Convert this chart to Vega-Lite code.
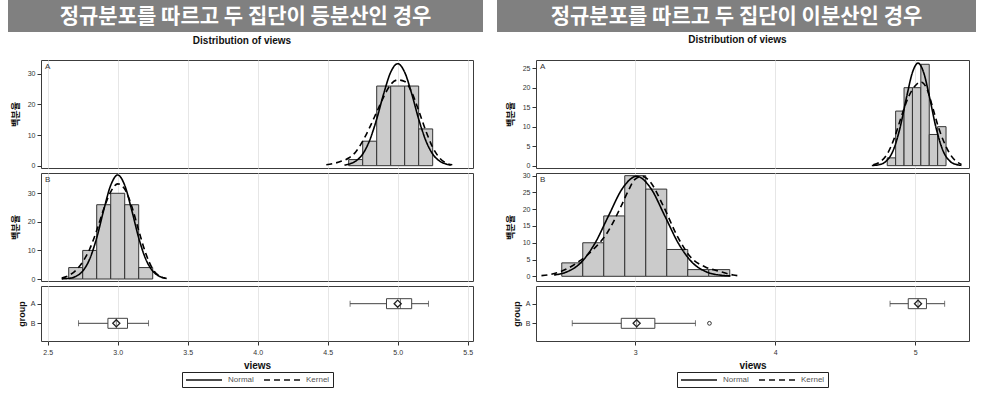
{
  "$schema": "https://vega.github.io/schema/vega-lite/v6.json",
  "background": "white",
  "padding": {"left": 8, "top": 0, "right": 2, "bottom": 2},
  "config": {
    "font": "Liberation Sans",
    "view": {"stroke": "#3c3c3c", "strokeWidth": 1},
    "axis": {"labelFont": "Liberation Sans", "labelFontSize": 7, "labelColor": "#333", "labelOverlap": false, "titleFont": "Liberation Sans", "titleFontSize": 10, "titleFontWeight": "bold", "titleColor": "#111", "tickColor": "#333", "domain": false, "grid": false, "gridColor": "#e6e6e6", "tickSize": 4, "labelPadding": 2},
    "axisY": {"minExtent": 16, "maxExtent": 16, "titlePadding": 5, "titleFontSize": 9},
    "legend": {"layout": {"bottom": {"anchor": "middle"}}}
  },
  "datasets": {
    "histL": [
      {"group": "A", "lo": 4.65, "hi": 4.75, "pct": 2},
      {"group": "A", "lo": 4.75, "hi": 4.85, "pct": 8},
      {"group": "A", "lo": 4.85, "hi": 4.95, "pct": 26},
      {"group": "A", "lo": 4.95, "hi": 5.05, "pct": 26},
      {"group": "A", "lo": 5.05, "hi": 5.15, "pct": 26},
      {"group": "A", "lo": 5.15, "hi": 5.25, "pct": 12},
      {"group": "B", "lo": 2.65, "hi": 2.75, "pct": 4},
      {"group": "B", "lo": 2.75, "hi": 2.85, "pct": 10},
      {"group": "B", "lo": 2.85, "hi": 2.95, "pct": 26},
      {"group": "B", "lo": 2.95, "hi": 3.05, "pct": 30},
      {"group": "B", "lo": 3.05, "hi": 3.15, "pct": 26},
      {"group": "B", "lo": 3.15, "hi": 3.25, "pct": 4}
    ],
    "histR": [
      {"group": "A", "lo": 4.80, "hi": 4.86, "pct": 2},
      {"group": "A", "lo": 4.86, "hi": 4.92, "pct": 14},
      {"group": "A", "lo": 4.92, "hi": 4.98, "pct": 20},
      {"group": "A", "lo": 4.98, "hi": 5.04, "pct": 20},
      {"group": "A", "lo": 5.04, "hi": 5.10, "pct": 26},
      {"group": "A", "lo": 5.10, "hi": 5.16, "pct": 8},
      {"group": "A", "lo": 5.16, "hi": 5.22, "pct": 10},
      {"group": "B", "lo": 2.475, "hi": 2.625, "pct": 4},
      {"group": "B", "lo": 2.625, "hi": 2.775, "pct": 10},
      {"group": "B", "lo": 2.775, "hi": 2.925, "pct": 18},
      {"group": "B", "lo": 2.925, "hi": 3.075, "pct": 30},
      {"group": "B", "lo": 3.075, "hi": 3.225, "pct": 26},
      {"group": "B", "lo": 3.225, "hi": 3.375, "pct": 8},
      {"group": "B", "lo": 3.375, "hi": 3.525, "pct": 2},
      {"group": "B", "lo": 3.525, "hi": 3.675, "pct": 2}
    ],
    "curveL": [
      {"group": "A", "type": "Normal", "x": 4.62, "y": 0.2},
      {"group": "A", "type": "Normal", "x": 4.65, "y": 0.5},
      {"group": "A", "type": "Normal", "x": 4.70, "y": 1.5},
      {"group": "A", "type": "Normal", "x": 4.75, "y": 3.8},
      {"group": "A", "type": "Normal", "x": 4.80, "y": 8.3},
      {"group": "A", "type": "Normal", "x": 4.85, "y": 15.2},
      {"group": "A", "type": "Normal", "x": 4.90, "y": 23.5},
      {"group": "A", "type": "Normal", "x": 4.95, "y": 30.5},
      {"group": "A", "type": "Normal", "x": 5.00, "y": 33.3},
      {"group": "A", "type": "Normal", "x": 5.05, "y": 30.5},
      {"group": "A", "type": "Normal", "x": 5.10, "y": 23.5},
      {"group": "A", "type": "Normal", "x": 5.15, "y": 15.2},
      {"group": "A", "type": "Normal", "x": 5.20, "y": 8.3},
      {"group": "A", "type": "Normal", "x": 5.25, "y": 3.8},
      {"group": "A", "type": "Normal", "x": 5.30, "y": 1.5},
      {"group": "A", "type": "Normal", "x": 5.35, "y": 0.5},
      {"group": "A", "type": "Normal", "x": 5.38, "y": 0.2},
      {"group": "A", "type": "Kernel", "x": 4.49, "y": 0.3},
      {"group": "A", "type": "Kernel", "x": 4.55, "y": 0.8},
      {"group": "A", "type": "Kernel", "x": 4.60, "y": 1.5},
      {"group": "A", "type": "Kernel", "x": 4.65, "y": 2.5},
      {"group": "A", "type": "Kernel", "x": 4.70, "y": 4.5},
      {"group": "A", "type": "Kernel", "x": 4.75, "y": 8},
      {"group": "A", "type": "Kernel", "x": 4.80, "y": 12.5},
      {"group": "A", "type": "Kernel", "x": 4.85, "y": 17.5},
      {"group": "A", "type": "Kernel", "x": 4.90, "y": 22.5},
      {"group": "A", "type": "Kernel", "x": 4.95, "y": 26.5},
      {"group": "A", "type": "Kernel", "x": 5.00, "y": 28},
      {"group": "A", "type": "Kernel", "x": 5.05, "y": 27.5},
      {"group": "A", "type": "Kernel", "x": 5.10, "y": 24},
      {"group": "A", "type": "Kernel", "x": 5.15, "y": 18},
      {"group": "A", "type": "Kernel", "x": 5.20, "y": 11.5},
      {"group": "A", "type": "Kernel", "x": 5.25, "y": 6},
      {"group": "A", "type": "Kernel", "x": 5.30, "y": 2.5},
      {"group": "A", "type": "Kernel", "x": 5.35, "y": 0.8},
      {"group": "A", "type": "Kernel", "x": 5.39, "y": 0.3},
      {"group": "B", "type": "Normal", "x": 2.60, "y": 0.05},
      {"group": "B", "type": "Normal", "x": 2.65, "y": 0.2},
      {"group": "B", "type": "Normal", "x": 2.70, "y": 0.9},
      {"group": "B", "type": "Normal", "x": 2.75, "y": 2.8},
      {"group": "B", "type": "Normal", "x": 2.80, "y": 7.0},
      {"group": "B", "type": "Normal", "x": 2.85, "y": 14.4},
      {"group": "B", "type": "Normal", "x": 2.90, "y": 24.1},
      {"group": "B", "type": "Normal", "x": 2.95, "y": 32.8},
      {"group": "B", "type": "Normal", "x": 3.00, "y": 36.4},
      {"group": "B", "type": "Normal", "x": 3.05, "y": 32.8},
      {"group": "B", "type": "Normal", "x": 3.10, "y": 24.1},
      {"group": "B", "type": "Normal", "x": 3.15, "y": 14.4},
      {"group": "B", "type": "Normal", "x": 3.20, "y": 7.0},
      {"group": "B", "type": "Normal", "x": 3.25, "y": 2.8},
      {"group": "B", "type": "Normal", "x": 3.30, "y": 0.9},
      {"group": "B", "type": "Normal", "x": 3.35, "y": 0.2},
      {"group": "B", "type": "Kernel", "x": 2.60, "y": 0.3},
      {"group": "B", "type": "Kernel", "x": 2.65, "y": 1.2},
      {"group": "B", "type": "Kernel", "x": 2.70, "y": 3},
      {"group": "B", "type": "Kernel", "x": 2.75, "y": 6},
      {"group": "B", "type": "Kernel", "x": 2.80, "y": 10.5},
      {"group": "B", "type": "Kernel", "x": 2.85, "y": 17},
      {"group": "B", "type": "Kernel", "x": 2.90, "y": 24.5},
      {"group": "B", "type": "Kernel", "x": 2.95, "y": 30.5},
      {"group": "B", "type": "Kernel", "x": 3.00, "y": 33.3},
      {"group": "B", "type": "Kernel", "x": 3.05, "y": 31.5},
      {"group": "B", "type": "Kernel", "x": 3.10, "y": 25.5},
      {"group": "B", "type": "Kernel", "x": 3.15, "y": 17},
      {"group": "B", "type": "Kernel", "x": 3.20, "y": 9},
      {"group": "B", "type": "Kernel", "x": 3.25, "y": 3.5},
      {"group": "B", "type": "Kernel", "x": 3.30, "y": 1},
      {"group": "B", "type": "Kernel", "x": 3.34, "y": 0.3}
    ],
    "curveR": [
      {"group": "A", "type": "Normal", "x": 4.69, "y": 0.04},
      {"group": "A", "type": "Normal", "x": 4.74, "y": 0.23},
      {"group": "A", "type": "Normal", "x": 4.79, "y": 1.08},
      {"group": "A", "type": "Normal", "x": 4.84, "y": 3.7},
      {"group": "A", "type": "Normal", "x": 4.89, "y": 9.5},
      {"group": "A", "type": "Normal", "x": 4.94, "y": 17.9},
      {"group": "A", "type": "Normal", "x": 4.98, "y": 23.9},
      {"group": "A", "type": "Normal", "x": 5.02, "y": 26.3},
      {"group": "A", "type": "Normal", "x": 5.06, "y": 23.9},
      {"group": "A", "type": "Normal", "x": 5.10, "y": 17.9},
      {"group": "A", "type": "Normal", "x": 5.15, "y": 9.5},
      {"group": "A", "type": "Normal", "x": 5.20, "y": 3.7},
      {"group": "A", "type": "Normal", "x": 5.25, "y": 1.08},
      {"group": "A", "type": "Normal", "x": 5.30, "y": 0.23},
      {"group": "A", "type": "Normal", "x": 5.33, "y": 0.08},
      {"group": "A", "type": "Kernel", "x": 4.70, "y": 0.2},
      {"group": "A", "type": "Kernel", "x": 4.75, "y": 1},
      {"group": "A", "type": "Kernel", "x": 4.80, "y": 3},
      {"group": "A", "type": "Kernel", "x": 4.85, "y": 7},
      {"group": "A", "type": "Kernel", "x": 4.90, "y": 12.5},
      {"group": "A", "type": "Kernel", "x": 4.95, "y": 17.5},
      {"group": "A", "type": "Kernel", "x": 5.00, "y": 20.5},
      {"group": "A", "type": "Kernel", "x": 5.04, "y": 21.5},
      {"group": "A", "type": "Kernel", "x": 5.08, "y": 20},
      {"group": "A", "type": "Kernel", "x": 5.12, "y": 15.5},
      {"group": "A", "type": "Kernel", "x": 5.16, "y": 10.5},
      {"group": "A", "type": "Kernel", "x": 5.20, "y": 6.5},
      {"group": "A", "type": "Kernel", "x": 5.24, "y": 3.5},
      {"group": "A", "type": "Kernel", "x": 5.28, "y": 1.5},
      {"group": "A", "type": "Kernel", "x": 5.33, "y": 0.3},
      {"group": "B", "type": "Normal", "x": 2.42, "y": 0.38},
      {"group": "B", "type": "Normal", "x": 2.51, "y": 1.3},
      {"group": "B", "type": "Normal", "x": 2.61, "y": 4.0},
      {"group": "B", "type": "Normal", "x": 2.71, "y": 9.7},
      {"group": "B", "type": "Normal", "x": 2.81, "y": 18.1},
      {"group": "B", "type": "Normal", "x": 2.91, "y": 26.3},
      {"group": "B", "type": "Normal", "x": 3.01, "y": 29.8},
      {"group": "B", "type": "Normal", "x": 3.11, "y": 26.3},
      {"group": "B", "type": "Normal", "x": 3.21, "y": 18.1},
      {"group": "B", "type": "Normal", "x": 3.31, "y": 9.7},
      {"group": "B", "type": "Normal", "x": 3.41, "y": 4.0},
      {"group": "B", "type": "Normal", "x": 3.51, "y": 1.3},
      {"group": "B", "type": "Normal", "x": 3.61, "y": 0.33},
      {"group": "B", "type": "Normal", "x": 3.68, "y": 0.11},
      {"group": "B", "type": "Kernel", "x": 2.33, "y": 0.2},
      {"group": "B", "type": "Kernel", "x": 2.40, "y": 0.6},
      {"group": "B", "type": "Kernel", "x": 2.50, "y": 2},
      {"group": "B", "type": "Kernel", "x": 2.60, "y": 4.5},
      {"group": "B", "type": "Kernel", "x": 2.70, "y": 8},
      {"group": "B", "type": "Kernel", "x": 2.80, "y": 13},
      {"group": "B", "type": "Kernel", "x": 2.90, "y": 21},
      {"group": "B", "type": "Kernel", "x": 2.95, "y": 25.5},
      {"group": "B", "type": "Kernel", "x": 3.00, "y": 29},
      {"group": "B", "type": "Kernel", "x": 3.05, "y": 29.8},
      {"group": "B", "type": "Kernel", "x": 3.10, "y": 28.5},
      {"group": "B", "type": "Kernel", "x": 3.20, "y": 21},
      {"group": "B", "type": "Kernel", "x": 3.30, "y": 12},
      {"group": "B", "type": "Kernel", "x": 3.40, "y": 5.5},
      {"group": "B", "type": "Kernel", "x": 3.50, "y": 2.8},
      {"group": "B", "type": "Kernel", "x": 3.60, "y": 1.5},
      {"group": "B", "type": "Kernel", "x": 3.70, "y": 0.4},
      {"group": "B", "type": "Kernel", "x": 3.73, "y": 0.2}
    ],
    "boxL": [
      {"group": "A", "min": 4.66, "q1": 4.92, "med": 5.02, "q3": 5.10, "max": 5.22, "mean": 5.0},
      {"group": "B", "min": 2.72, "q1": 2.93, "med": 2.99, "q3": 3.07, "max": 3.22, "mean": 2.99}
    ],
    "boxR": [
      {"group": "A", "min": 4.82, "q1": 4.95, "med": 5.02, "q3": 5.08, "max": 5.21, "mean": 5.02},
      {"group": "B", "min": 2.55, "q1": 2.90, "med": 3.01, "q3": 3.14, "max": 3.43, "mean": 3.01}
    ],
    "outR": [
      {"group": "B", "value": 3.53}
    ]
  },
  "spacing": 14,
  "resolve": {"scale": {"x": "independent", "y": "independent", "strokeDash": "independent"}, "legend": {"strokeDash": "independent"}},
  "hconcat": [
    {
      "spacing": 3,
      "resolve": {"scale": {"x": "independent", "y": "independent", "strokeDash": "independent"}, "legend": {"strokeDash": "independent"}},
      "vconcat": [
        {
          "width": 475, "height": 32,
          "view": {"fill": "#808080", "stroke": null},
          "data": {"values": [{"title": "정규분포를 따르고 두 집단이 등분산인 경우"}]},
          "mark": {"type": "text", "color": "white", "font": "Noto Sans CJK KR", "fontWeight": "bold", "fontSize": 21, "dy": 1},
          "encoding": {"text": {"field": "title"}}
        },
        {
          "spacing": 1,
          "resolve": {"scale": {"x": "independent", "y": "independent", "strokeDash": "independent"}, "legend": {"strokeDash": "independent"}},
          "hconcat": [
            {"width": 1, "height": 1, "view": {"stroke": null}, "data": {"values": []}, "mark": "point"},
            {
              "title": {"text": "Distribution of views", "anchor": "middle", "fontSize": 10, "fontWeight": "bold", "offset": 14, "color": "#111", "font": "Liberation Sans"},
              "bounds": "flush",
              "spacing": 5,
              "resolve": {"scale": {"x": "independent", "y": "independent", "strokeDash": "independent"}, "legend": {"strokeDash": "independent"}},
              "vconcat": [
                {
                  "width": 432, "height": 108,
                  "layer": [
                    {
                      "data": {"name": "histL"}, "transform": [{"filter": "datum.group === 'A'"}],
                      "mark": {"type": "rect", "fill": "#cbcbcb", "stroke": "#333", "strokeWidth": 1},
                      "encoding": {
                        "x": {"field": "lo", "type": "quantitative", "title": null, "scale": {"domain": [2.452, 5.538], "nice": false, "zero": false}, "axis": {"values": [2.5, 3, 3.5, 4, 4.5, 5, 5.5], "grid": true, "labels": false, "ticks": false}},
                        "x2": {"field": "hi"},
                        "y": {"field": "pct", "type": "quantitative", "title": "백분율", "scale": {"domain": [-0.75, 34.5], "nice": false, "zero": false}, "axis": {"values": [0, 10, 20, 30], "titleFont": "Noto Sans CJK KR"}},
                        "y2": {"datum": 0}
                      }
                    },
                    {
                      "data": {"name": "curveL"}, "transform": [{"filter": "datum.group === 'A'"}],
                      "mark": {"type": "line", "color": "#000", "strokeWidth": 1.6, "interpolate": "monotone"},
                      "encoding": {
                        "x": {"field": "x", "type": "quantitative", "title": null},
                        "y": {"field": "y", "type": "quantitative", "title": "백분율", "axis": {"values": [0, 10, 20, 30], "titleFont": "Noto Sans CJK KR"}},
                        "strokeDash": {"field": "type", "type": "nominal", "scale": {"domain": ["Normal", "Kernel"], "range": [[1, 0], [6, 4]]}, "legend": null}
                      }
                    },
                    {
                      "data": {"values": [{"label": "A"}]},
                      "mark": {"type": "text", "align": "left", "baseline": "top", "dx": 4, "dy": 3, "fontSize": 8, "color": "#333"},
                      "encoding": {"x": {"datum": 2.452}, "y": {"datum": 34.5, "axis": {"values": [0, 10, 20, 30], "titleFont": "Noto Sans CJK KR"}, "title": "백분율"}, "text": {"field": "label"}}
                    }
                  ]
                },
                {
                  "width": 432, "height": 108,
                  "layer": [
                    {
                      "data": {"name": "histL"}, "transform": [{"filter": "datum.group === 'B'"}],
                      "mark": {"type": "rect", "fill": "#cbcbcb", "stroke": "#333", "strokeWidth": 1},
                      "encoding": {
                        "x": {"field": "lo", "type": "quantitative", "title": null, "scale": {"domain": [2.452, 5.538], "nice": false, "zero": false}, "axis": {"values": [2.5, 3, 3.5, 4, 4.5, 5, 5.5], "grid": true, "labels": false, "ticks": false}},
                        "x2": {"field": "hi"},
                        "y": {"field": "pct", "type": "quantitative", "title": "백분율", "scale": {"domain": [-0.7, 37.1], "nice": false, "zero": false}, "axis": {"values": [0, 10, 20, 30], "titleFont": "Noto Sans CJK KR"}},
                        "y2": {"datum": 0}
                      }
                    },
                    {
                      "data": {"name": "curveL"}, "transform": [{"filter": "datum.group === 'B'"}],
                      "mark": {"type": "line", "color": "#000", "strokeWidth": 1.6, "interpolate": "monotone"},
                      "encoding": {
                        "x": {"field": "x", "type": "quantitative", "title": null},
                        "y": {"field": "y", "type": "quantitative", "title": "백분율", "axis": {"values": [0, 10, 20, 30], "titleFont": "Noto Sans CJK KR"}},
                        "strokeDash": {"field": "type", "type": "nominal", "scale": {"domain": ["Normal", "Kernel"], "range": [[1, 0], [6, 4]]}, "legend": null}
                      }
                    },
                    {
                      "data": {"values": [{"label": "B"}]},
                      "mark": {"type": "text", "align": "left", "baseline": "top", "dx": 4, "dy": 3, "fontSize": 8, "color": "#333"},
                      "encoding": {"x": {"datum": 2.452}, "y": {"datum": 37.1, "axis": {"values": [0, 10, 20, 30], "titleFont": "Noto Sans CJK KR"}, "title": "백분율"}, "text": {"field": "label"}}
                    }
                  ]
                },
                {
                  "width": 432, "height": 55,
                  "layer": [
                    {
                      "data": {"name": "boxL"},
                      "mark": {"type": "rule", "color": "#444", "strokeWidth": 1},
                      "encoding": {
                        "x": {"field": "min", "type": "quantitative", "title": "views", "scale": {"domain": [2.452, 5.538], "nice": false, "zero": false}, "axis": {"values": [2.5, 3, 3.5, 4, 4.5, 5, 5.5], "format": ".1f", "grid": true, "labelPadding": 3, "titlePadding": 5}},
                        "x2": {"field": "max"},
                        "y": {"field": "group", "type": "nominal", "title": "group", "scale": {"type": "point", "padding": 0.9, "domain": ["A", "B"]}, "axis": {"minExtent": 13, "maxExtent": 13, "titlePadding": 2}}
                      }
                    },
                    {
                      "data": {"name": "boxL"},
                      "mark": {"type": "tick", "color": "#444", "size": 6, "thickness": 1},
                      "encoding": {"x": {"field": "min", "type": "quantitative", "title": "views"}, "y": {"field": "group", "type": "nominal", "title": "group"}}
                    },
                    {
                      "data": {"name": "boxL"},
                      "mark": {"type": "tick", "color": "#444", "size": 6, "thickness": 1},
                      "encoding": {"x": {"field": "max", "type": "quantitative", "title": "views"}, "y": {"field": "group", "type": "nominal", "title": "group"}}
                    },
                    {
                      "data": {"name": "boxL"},
                      "mark": {"type": "bar", "size": 10, "fill": "white", "stroke": "#444", "strokeWidth": 1},
                      "encoding": {"x": {"field": "q1", "type": "quantitative", "title": "views"}, "x2": {"field": "q3"}, "y": {"field": "group", "type": "nominal", "title": "group"}}
                    },
                    {
                      "data": {"name": "boxL"},
                      "mark": {"type": "tick", "color": "#444", "size": 10, "thickness": 1},
                      "encoding": {"x": {"field": "med", "type": "quantitative", "title": "views"}, "y": {"field": "group", "type": "nominal", "title": "group"}}
                    },
                    {
                      "data": {"name": "boxL"},
                      "mark": {"type": "point", "shape": "diamond", "size": 50, "filled": false, "color": "#222", "strokeWidth": 1.3, "opacity": 1},
                      "encoding": {"x": {"field": "mean", "type": "quantitative", "title": "views"}, "y": {"field": "group", "type": "nominal", "title": "group"}}
                    },
                    {
                      "data": {"values": []},
                      "mark": {"type": "line", "color": "#000"},
                      "encoding": {
                        "x": {"field": "x", "type": "quantitative", "title": "views"},
                        "y": {"field": "group", "type": "nominal", "title": "group"},
                        "strokeDash": {"field": "type", "type": "nominal", "scale": {"domain": ["Normal", "Kernel"], "range": [[1, 0], [6, 4]]},
                          "legend": {"orient": "bottom", "direction": "horizontal", "title": null, "strokeColor": "#222", "padding": 3, "offset": 2, "symbolType": "M-1,0L8,0", "symbolSize": 64, "symbolStrokeWidth": 1.5, "symbolStrokeColor": "#111", "labelFontSize": 8, "labelColor": "#555", "labelFont": "Liberation Sans", "columnPadding": 7, "labelOffset": 33}}
                      }
                    }
                  ]
                }
              ]
            }
          ]
        }
      ]
    },
    {
      "spacing": 3,
      "resolve": {"scale": {"x": "independent", "y": "independent", "strokeDash": "independent"}, "legend": {"strokeDash": "independent"}},
      "vconcat": [
        {
          "width": 479, "height": 32,
          "view": {"fill": "#808080", "stroke": null},
          "data": {"values": [{"title": "정규분포를 따르고 두 집단이 이분산인 경우"}]},
          "mark": {"type": "text", "color": "white", "font": "Noto Sans CJK KR", "fontWeight": "bold", "fontSize": 21, "dy": 1},
          "encoding": {"text": {"field": "title"}}
        },
        {
          "spacing": 7,
          "resolve": {"scale": {"x": "independent", "y": "independent", "strokeDash": "independent"}, "legend": {"strokeDash": "independent"}},
          "hconcat": [
            {"width": 1, "height": 1, "view": {"stroke": null}, "data": {"values": []}, "mark": "point"},
            {
              "title": {"text": "Distribution of views", "anchor": "middle", "fontSize": 10, "fontWeight": "bold", "offset": 14, "color": "#111", "font": "Liberation Sans"},
              "bounds": "flush",
              "spacing": 5,
              "resolve": {"scale": {"x": "independent", "y": "independent", "strokeDash": "independent"}, "legend": {"strokeDash": "independent"}},
              "vconcat": [
                {
                  "width": 433, "height": 108,
                  "layer": [
                    {
                      "data": {"name": "histR"}, "transform": [{"filter": "datum.group === 'A'"}],
                      "mark": {"type": "rect", "fill": "#cbcbcb", "stroke": "#333", "strokeWidth": 1},
                      "encoding": {
                        "x": {"field": "lo", "type": "quantitative", "title": null, "scale": {"domain": [2.291, 5.384], "nice": false, "zero": false}, "axis": {"values": [3, 4, 5], "grid": true, "labels": false, "ticks": false}},
                        "x2": {"field": "hi"},
                        "y": {"field": "pct", "type": "quantitative", "title": "백분율", "scale": {"domain": [-0.6, 27.1], "nice": false, "zero": false}, "axis": {"values": [0, 5, 10, 15, 20, 25], "titleFont": "Noto Sans CJK KR"}},
                        "y2": {"datum": 0}
                      }
                    },
                    {
                      "data": {"name": "curveR"}, "transform": [{"filter": "datum.group === 'A'"}],
                      "mark": {"type": "line", "color": "#000", "strokeWidth": 1.6, "interpolate": "monotone"},
                      "encoding": {
                        "x": {"field": "x", "type": "quantitative", "title": null},
                        "y": {"field": "y", "type": "quantitative", "title": "백분율", "axis": {"values": [0, 5, 10, 15, 20, 25], "titleFont": "Noto Sans CJK KR"}},
                        "strokeDash": {"field": "type", "type": "nominal", "scale": {"domain": ["Normal", "Kernel"], "range": [[1, 0], [6, 4]]}, "legend": null}
                      }
                    },
                    {
                      "data": {"values": [{"label": "A"}]},
                      "mark": {"type": "text", "align": "left", "baseline": "top", "dx": 4, "dy": 3, "fontSize": 8, "color": "#333"},
                      "encoding": {"x": {"datum": 2.291}, "y": {"datum": 27.1, "axis": {"values": [0, 5, 10, 15, 20, 25], "titleFont": "Noto Sans CJK KR"}, "title": "백분율"}, "text": {"field": "label"}}
                    }
                  ]
                },
                {
                  "width": 433, "height": 108,
                  "layer": [
                    {
                      "data": {"name": "histR"}, "transform": [{"filter": "datum.group === 'B'"}],
                      "mark": {"type": "rect", "fill": "#cbcbcb", "stroke": "#333", "strokeWidth": 1},
                      "encoding": {
                        "x": {"field": "lo", "type": "quantitative", "title": null, "scale": {"domain": [2.291, 5.384], "nice": false, "zero": false}, "axis": {"values": [3, 4, 5], "grid": true, "labels": false, "ticks": false}},
                        "x2": {"field": "hi"},
                        "y": {"field": "pct", "type": "quantitative", "title": "백분율", "scale": {"domain": [-1.4, 30.8], "nice": false, "zero": false}, "axis": {"values": [0, 5, 10, 15, 20, 25, 30], "titleFont": "Noto Sans CJK KR"}},
                        "y2": {"datum": 0}
                      }
                    },
                    {
                      "data": {"name": "curveR"}, "transform": [{"filter": "datum.group === 'B'"}],
                      "mark": {"type": "line", "color": "#000", "strokeWidth": 1.6, "interpolate": "monotone"},
                      "encoding": {
                        "x": {"field": "x", "type": "quantitative", "title": null},
                        "y": {"field": "y", "type": "quantitative", "title": "백분율", "axis": {"values": [0, 5, 10, 15, 20, 25, 30], "titleFont": "Noto Sans CJK KR"}},
                        "strokeDash": {"field": "type", "type": "nominal", "scale": {"domain": ["Normal", "Kernel"], "range": [[1, 0], [6, 4]]}, "legend": null}
                      }
                    },
                    {
                      "data": {"values": [{"label": "B"}]},
                      "mark": {"type": "text", "align": "left", "baseline": "top", "dx": 4, "dy": 3, "fontSize": 8, "color": "#333"},
                      "encoding": {"x": {"datum": 2.291}, "y": {"datum": 30.8, "axis": {"values": [0, 5, 10, 15, 20, 25, 30], "titleFont": "Noto Sans CJK KR"}, "title": "백분율"}, "text": {"field": "label"}}
                    }
                  ]
                },
                {
                  "width": 433, "height": 55,
                  "layer": [
                    {
                      "data": {"name": "boxR"},
                      "mark": {"type": "rule", "color": "#444", "strokeWidth": 1},
                      "encoding": {
                        "x": {"field": "min", "type": "quantitative", "title": "views", "scale": {"domain": [2.291, 5.384], "nice": false, "zero": false}, "axis": {"values": [3, 4, 5], "format": "d", "grid": true, "labelPadding": 3, "titlePadding": 5}},
                        "x2": {"field": "max"},
                        "y": {"field": "group", "type": "nominal", "title": "group", "scale": {"type": "point", "padding": 0.9, "domain": ["A", "B"]}, "axis": {"minExtent": 13, "maxExtent": 13, "titlePadding": 2}}
                      }
                    },
                    {
                      "data": {"name": "boxR"},
                      "mark": {"type": "tick", "color": "#444", "size": 6, "thickness": 1},
                      "encoding": {"x": {"field": "min", "type": "quantitative", "title": "views"}, "y": {"field": "group", "type": "nominal", "title": "group"}}
                    },
                    {
                      "data": {"name": "boxR"},
                      "mark": {"type": "tick", "color": "#444", "size": 6, "thickness": 1},
                      "encoding": {"x": {"field": "max", "type": "quantitative", "title": "views"}, "y": {"field": "group", "type": "nominal", "title": "group"}}
                    },
                    {
                      "data": {"name": "boxR"},
                      "mark": {"type": "bar", "size": 10, "fill": "white", "stroke": "#444", "strokeWidth": 1},
                      "encoding": {"x": {"field": "q1", "type": "quantitative", "title": "views"}, "x2": {"field": "q3"}, "y": {"field": "group", "type": "nominal", "title": "group"}}
                    },
                    {
                      "data": {"name": "boxR"},
                      "mark": {"type": "tick", "color": "#444", "size": 10, "thickness": 1},
                      "encoding": {"x": {"field": "med", "type": "quantitative", "title": "views"}, "y": {"field": "group", "type": "nominal", "title": "group"}}
                    },
                    {
                      "data": {"name": "boxR"},
                      "mark": {"type": "point", "shape": "diamond", "size": 50, "filled": false, "color": "#222", "strokeWidth": 1.3, "opacity": 1},
                      "encoding": {"x": {"field": "mean", "type": "quantitative", "title": "views"}, "y": {"field": "group", "type": "nominal", "title": "group"}}
                    },
                    {
                      "data": {"name": "outR"},
                      "mark": {"type": "point", "shape": "circle", "size": 14, "filled": false, "color": "#333", "strokeWidth": 1, "opacity": 1},
                      "encoding": {"x": {"field": "value", "type": "quantitative", "title": "views"}, "y": {"field": "group", "type": "nominal", "title": "group"}}
                    },
                    {
                      "data": {"values": []},
                      "mark": {"type": "line", "color": "#000"},
                      "encoding": {
                        "x": {"field": "x", "type": "quantitative", "title": "views"},
                        "y": {"field": "group", "type": "nominal", "title": "group"},
                        "strokeDash": {"field": "type", "type": "nominal", "scale": {"domain": ["Normal", "Kernel"], "range": [[1, 0], [6, 4]]},
                          "legend": {"orient": "bottom", "direction": "horizontal", "title": null, "strokeColor": "#222", "padding": 3, "offset": 2, "symbolType": "M-1,0L8,0", "symbolSize": 64, "symbolStrokeWidth": 1.5, "symbolStrokeColor": "#111", "labelFontSize": 8, "labelColor": "#555", "labelFont": "Liberation Sans", "columnPadding": 7, "labelOffset": 33}}
                      }
                    }
                  ]
                }
              ]
            }
          ]
        }
      ]
    }
  ]
}
